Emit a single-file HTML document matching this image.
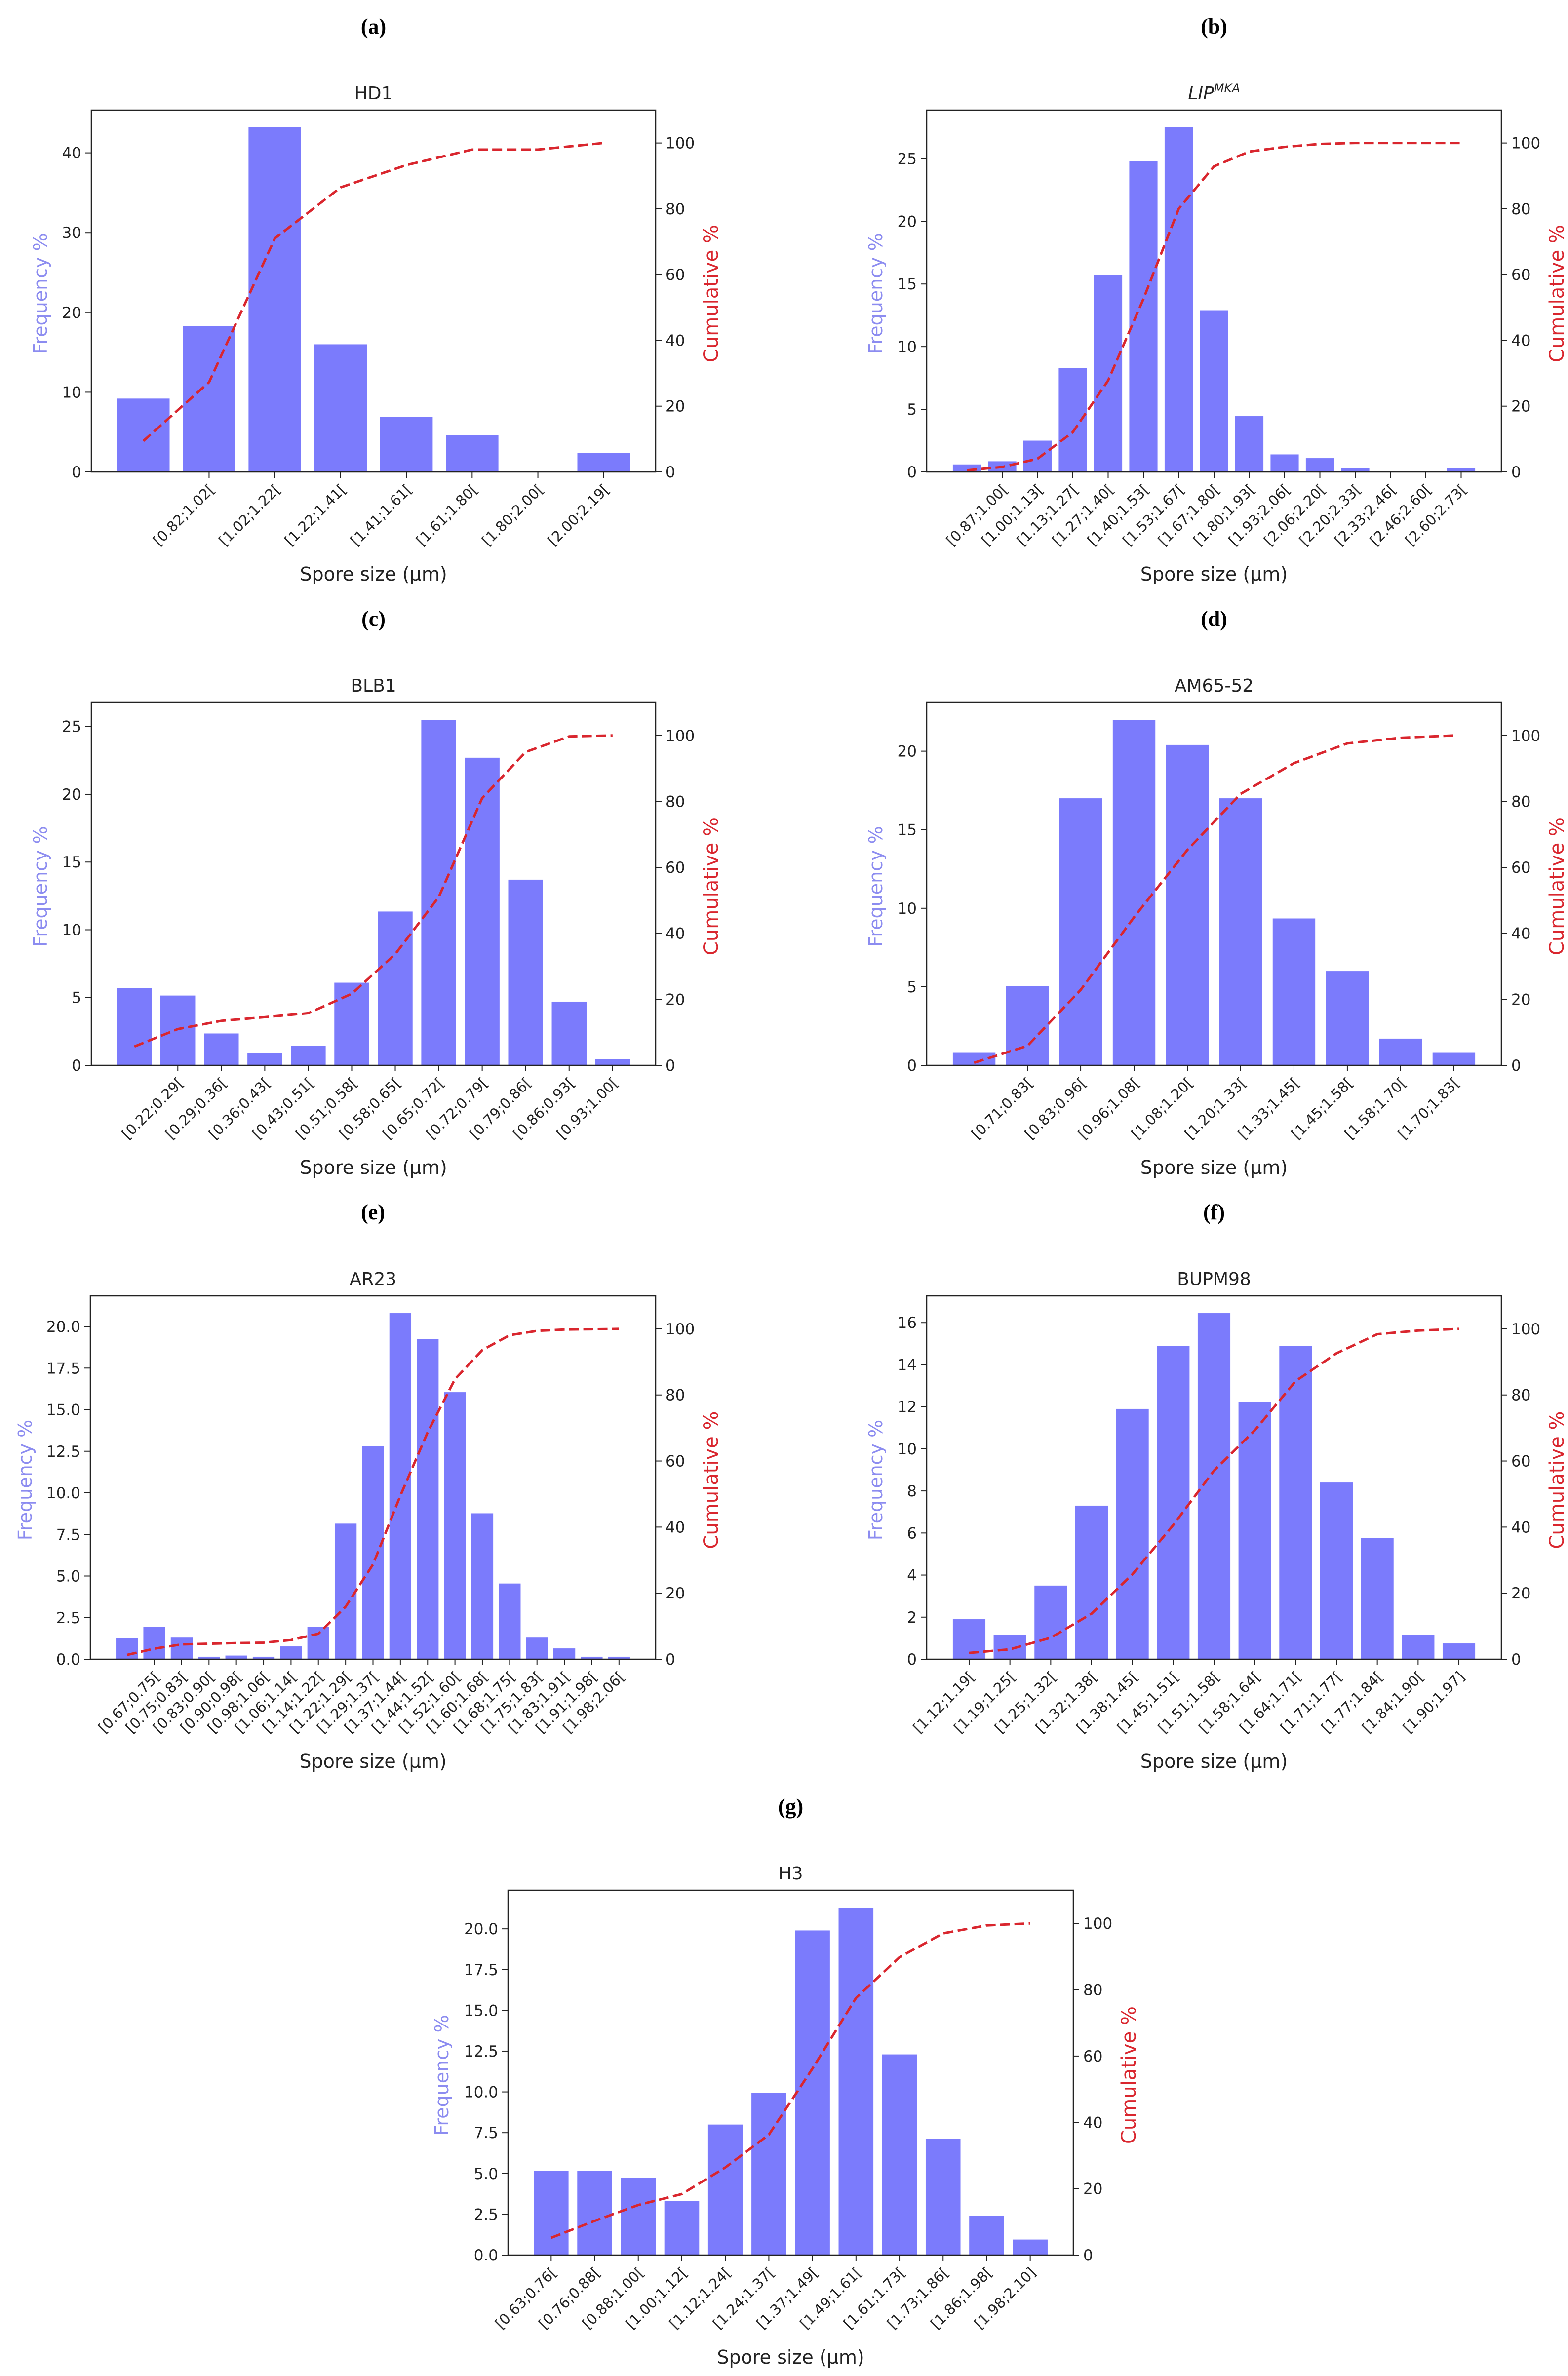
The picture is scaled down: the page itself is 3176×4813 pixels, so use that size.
<!DOCTYPE html>
<html><head><meta charset="utf-8">
<style>
html,body{margin:0;padding:0;background:#fff;}
svg{display:block;}
text{font-family:"DejaVu Sans","Liberation Sans",sans-serif;fill:#222;}
.plab{font-family:"Liberation Serif",serif;font-weight:bold;font-size:44px;fill:#000;}
</style></head>
<body>
<svg id="fig" width="3176" height="4813" viewBox="0 0 3176 4813" xmlns="http://www.w3.org/2000/svg"></svg>
<script>
// ---- data ----
const hd1Bars = [9.2, 18.3, 43.2, 16.0, 6.9, 4.6, 0, 2.4];
const hd1Cum = [9.4, 27.3, 71.0, 86.5, 93.3, 98.0, 98.0, 100];
const hd1Labels = ["[0.82;1.02[","[1.02;1.22[","[1.22;1.41[","[1.41;1.61[","[1.61;1.80[","[1.80;2.00[","[2.00;2.19["];
const hd1Ticks = [0, 10, 20, 30, 40];

const lipBars = [0.6, 0.85, 2.5, 8.3, 15.7, 24.8, 27.5, 12.9, 4.45, 1.4, 1.1, 0.3, 0, 0, 0.3];
const lipCum = [0.5, 1.5, 4.0, 12.1, 27.8, 52.6, 80.0, 92.9, 97.4, 98.8, 99.7, 100, 100, 100, 100];
const lipLabels = ["[0.87;1.00[","[1.00;1.13[","[1.13;1.27[","[1.27;1.40[","[1.40;1.53[","[1.53;1.67[","[1.67;1.80[","[1.80;1.93[","[1.93;2.06[","[2.06;2.20[","[2.20;2.33[","[2.33;2.46[","[2.46;2.60[","[2.60;2.73["];
const lipTicks = [0, 5, 10, 15, 20, 25];

const blbBars = [5.7, 5.15, 2.35, 0.9, 1.45, 6.1, 11.35, 25.5, 22.7, 13.7, 4.7, 0.45];
const blbCum = [5.7, 11.0, 13.5, 14.6, 15.8, 21.7, 33.7, 51.0, 81.0, 95.0, 99.7, 100];
const blbLabels = ["[0.22;0.29[","[0.29;0.36[","[0.36;0.43[","[0.43;0.51[","[0.51;0.58[","[0.58;0.65[","[0.65;0.72[","[0.72;0.79[","[0.79;0.86[","[0.86;0.93[","[0.93;1.00["];
const blbTicks = [0, 5, 10, 15, 20, 25];

const amBars = [0.8, 5.05, 17.0, 22.0, 20.4, 17.0, 9.35, 6.0, 1.7, 0.8];
const amCum = [0.8, 5.9, 22.9, 44.9, 65.3, 82.3, 91.6, 97.6, 99.3, 100];
const amLabels = ["[0.71;0.83[","[0.83;0.96[","[0.96;1.08[","[1.08;1.20[","[1.20;1.33[","[1.33;1.45[","[1.45;1.58[","[1.58;1.70[","[1.70;1.83["];
const amTicks = [0, 5, 10, 15, 20];

const arBars = [1.25, 1.95, 1.3, 0.15, 0.22, 0.15, 0.77, 1.95, 8.15, 12.8, 20.8, 19.25, 16.05, 8.77, 4.55, 1.3, 0.65, 0.15, 0.15];
const arCum = [1.3, 3.2, 4.5, 4.7, 4.9, 5.0, 5.8, 7.7, 15.9, 28.7, 49.5, 68.7, 84.8, 93.6, 98.1, 99.4, 99.8, 99.9, 100];
const arLabels = ["[0.67;0.75[","[0.75;0.83[","[0.83;0.90[","[0.90;0.98[","[0.98;1.06[","[1.06;1.14[","[1.14;1.22[","[1.22;1.29[","[1.29;1.37[","[1.37;1.44[","[1.44;1.52[","[1.52;1.60[","[1.60;1.68[","[1.68;1.75[","[1.75;1.83[","[1.83;1.91[","[1.91;1.98[","[1.98;2.06["];
const arTicks = [0, 2.5, 5, 7.5, 10, 12.5, 15, 17.5, 20];

const buBars = [1.9, 1.15, 3.5, 7.3, 11.9, 14.9, 16.45, 12.25, 14.9, 8.4, 5.75, 1.15, 0.75];
const buCum = [1.9, 3.0, 6.5, 13.8, 25.7, 40.6, 57.1, 69.3, 84.2, 92.6, 98.4, 99.5, 100];
const buLabels = ["[1.12;1.19[","[1.19;1.25[","[1.25;1.32[","[1.32;1.38[","[1.38;1.45[","[1.45;1.51[","[1.51;1.58[","[1.58;1.64[","[1.64;1.71[","[1.71;1.77[","[1.77;1.84[","[1.84;1.90[","[1.90;1.97]"];
const buTicks = [0, 2, 4, 6, 8, 10, 12, 14, 16];

const h3Bars = [5.17, 5.17, 4.75, 3.3, 8.0, 9.95, 19.9, 21.3, 12.3, 7.13, 2.4, 0.95];
const h3Cum = [5.2, 10.3, 15.1, 18.4, 26.4, 36.3, 56.2, 77.5, 89.8, 97.0, 99.4, 100];
const h3Labels = ["[0.63;0.76[","[0.76;0.88[","[0.88;1.00[","[1.00;1.12[","[1.12;1.24[","[1.24;1.37[","[1.37;1.49[","[1.49;1.61[","[1.61;1.73[","[1.73;1.86[","[1.86;1.98[","[1.98;2.10]"];
const h3Ticks = [0, 2.5, 5, 7.5, 10, 12.5, 15, 17.5, 20];

const cumTicks = [0, 20, 40, 60, 80, 100];

// ---- layout ----
const NS = "http://www.w3.org/2000/svg";
const svg = document.getElementById("fig");
function el(tag, attrs, parent) {
  const e = document.createElementNS(NS, tag);
  for (const k in attrs) e.setAttribute(k, attrs[k]);
  (parent || svg).appendChild(e);
  return e;
}

const panels = [
  {id:"a", name:"hd1", title:"HD1", bars:hd1Bars, cum:hd1Cum, labels:hd1Labels, ticks:hd1Ticks, off:1, dec:0, L:185, R:1328, T:223, B:956, flOff:103},
  {id:"b", name:"lip-mka", title:"LIP", sup:"MKA", bars:lipBars, cum:lipCum, labels:lipLabels, ticks:lipTicks, off:1, dec:0, L:1877, R:3041, T:223, B:956, flOff:103},
  {id:"c", name:"blb1", title:"BLB1", bars:blbBars, cum:blbCum, labels:blbLabels, ticks:blbTicks, off:1, dec:0, L:185, R:1328, T:1423, B:2158, flOff:103},
  {id:"d", name:"am65-52", title:"AM65-52", bars:amBars, cum:amCum, labels:amLabels, ticks:amTicks, off:1, dec:0, L:1877, R:3041, T:1423, B:2158, flOff:103},
  {id:"e", name:"ar23", title:"AR23", bars:arBars, cum:arCum, labels:arLabels, ticks:arTicks, off:1, dec:1, L:183, R:1328, T:2625, B:3361, flOff:132},
  {id:"f", name:"bupm98", title:"BUPM98", bars:buBars, cum:buCum, labels:buLabels, ticks:buTicks, off:0, dec:0, L:1877, R:3041, T:2625, B:3361, flOff:103},
  {id:"g", name:"h3", title:"H3", bars:h3Bars, cum:h3Cum, labels:h3Labels, ticks:h3Ticks, off:0, dec:1, L:1029, R:2174, T:3829, B:4568, flOff:134}
];

panels.forEach(p => {
  const g = el("g", {});
  
  
  const n = p.bars.length;
  const lo = -0.4 - 0.05 * (n - 0.2), hi = n - 0.6 + 0.05 * (n - 0.2);
  const xs = i => p.L + (i - lo) / (hi - lo) * (p.R - p.L);
  const ymax = Math.max(...p.bars) * 1.05;
  const yl = v => p.B - v / ymax * (p.B - p.T);
  const yr = v => p.B - v / 110 * (p.B - p.T);
  const unit = xs(1) - xs(0);
  const cx = (p.L + p.R) / 2;

  // panel label
  const pl = el("text", {x: cx, y: p.T - 155, "text-anchor": "middle", class: "plab"}, g);
  pl.textContent = "(" + p.id + ")";
  
  

  // chart title
  const tt = el("text", {x: cx, y: p.T - 22, "text-anchor": "middle", "font-size": "36", "font-style": p.sup ? "italic" : "normal"}, g);
  tt.textContent = p.title;
  if (p.sup) {
    const s = el("tspan", {"font-size": "24", dy: "-14"}, tt);
    s.textContent = p.sup;
  }
  
  

  // bars
  p.bars.forEach((v, i) => {
    const r = el("rect", {x: xs(i) - 0.4 * unit, y: yl(v), width: 0.8 * unit, height: p.B - yl(v), fill: "#7b7bfc"}, g);
    
    
  });

  // cumulative line
  const pts = p.cum.map((v, i) => xs(i).toFixed(1) + "," + yr(v).toFixed(1)).join(" ");
  const pl2 = el("polyline", {points: pts, fill: "none", stroke: "#d9262e", "stroke-width": "5", "stroke-dasharray": "20 9"}, g);
  
  

  // frame
  const fr = el("rect", {x: p.L, y: p.T, width: p.R - p.L, height: p.B - p.T, fill: "none", stroke: "#222", "stroke-width": "2.5"}, g);
  
  

  // left ticks
  p.ticks.forEach(t => {
    const y = yl(t);
    el("line", {x1: p.L - 12, x2: p.L, y1: y, y2: y, stroke: "#222", "stroke-width": "2"}, g);
    const tx = el("text", {x: p.L - 20, y: y + 11, "text-anchor": "end", "font-size": "31"}, g);
    tx.textContent = p.dec ? t.toFixed(1) : String(t);
    
    
  });
  // right ticks
  cumTicks.forEach(t => {
    const y = yr(t);
    el("line", {x1: p.R, x2: p.R + 12, y1: y, y2: y, stroke: "#222", "stroke-width": "2"}, g);
    const tx = el("text", {x: p.R + 20, y: y + 11, "text-anchor": "start", "font-size": "31"}, g);
    tx.textContent = String(t);
    
    
  });
  // x ticks + labels
  p.labels.forEach((lab, j) => {
    const x = xs(j + p.off);
    el("line", {x1: x, x2: x, y1: p.B, y2: p.B + 12, stroke: "#222", "stroke-width": "2"}, g);
    const ty = p.B + 30;
    const tx = el("text", {x: x + 6, y: ty + 10, "text-anchor": "end", "font-size": "29", transform: "rotate(-45 " + (x + 6) + " " + ty + ")"}, g);
    tx.textContent = lab;
    
    
  });

  // axis titles
  const xt = el("text", {x: cx, y: p.B + 220, "text-anchor": "middle", "font-size": "38"}, g);
  xt.textContent = "Spore size (\u03bcm)";
  
  

  const my = (p.T + p.B) / 2 + 5;
  const fx = p.L - p.flOff + 13;
  const ft = el("text", {x: fx, y: my, "text-anchor": "middle", "font-size": "38", transform: "rotate(-90 " + fx + " " + my + ")", style: "fill:#8c8cf0"}, g);
  ft.textContent = "Frequency %";
  
  

  const rx = p.R + 126;
  const ct = el("text", {x: rx, y: my, "text-anchor": "middle", "font-size": "40", transform: "rotate(-90 " + rx + " " + my + ")", style: "fill:#d9262e"}, g);
  ct.textContent = "Cumulative %";
  
  
});
</script>
</body></html>
